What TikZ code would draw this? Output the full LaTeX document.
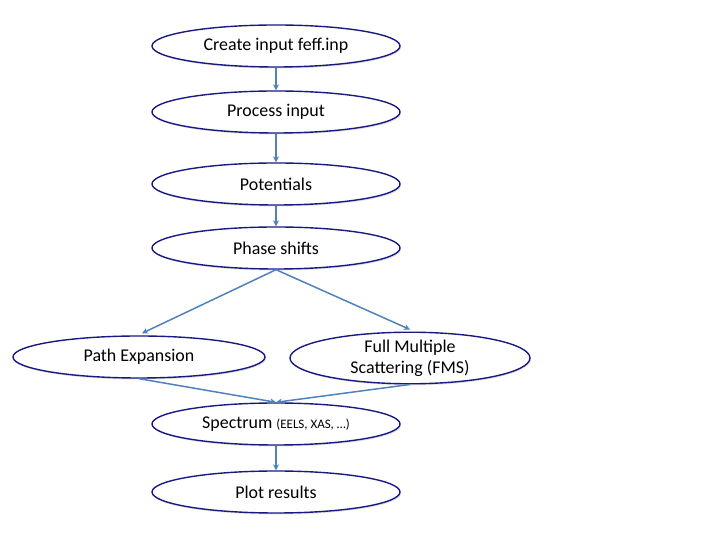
\documentclass[tikz,border=0pt]{standalone}
\usepackage{fontspec}
\setmainfont{Carlito}
\usetikzlibrary{shapes.geometric,arrows.meta,shadows}

\definecolor{rimblue}{RGB}{25,25,130}
\definecolor{flowblue}{RGB}{79,129,189}

\begin{document}
\begin{tikzpicture}[x=1bp,y=1bp]
    		\newcommand{\midx}{276} % centre line of the chain
    		\newcommand{\ewid}{248bp} % width of the ellipses
    		\newcommand{\ehgt}{42bp} % height of the ellipses

    		% set the style of the boxes and arrows
    		\tikzset{
    			stage/.style={
    				ellipse,
    				draw=rimblue,
    				line width=1.4pt,
    				fill=white,
    				minimum width=\ewid,
    				minimum height=\ehgt,
    				inner sep=0pt,
    				align=center,
    				font=\fontsize{18}{21}\selectfont,
    				drop shadow={opacity=0.25,shadow xshift=1pt,shadow yshift=-1.5pt}
    				},
    			flow/.style={
    				draw=flowblue,
    				line width=1.5pt,
    				-{Stealth[length=6pt,width=6pt]}
    				}
    		}
    		\useasboundingbox (0,0) rectangle (720,540);

    		% stages
			\node[stage] (create)    at (\midx,494) {Create input feff.inp};
			\node[stage] (process)   at (\midx,428) {Process input};
			\node[stage] (potential) at (\midx,356) {Potentials};
			\node[stage] (phase)     at (\midx,292) {Phase shifts};
			\node[stage, minimum width=252bp] (path) at (139,183) {Path Expansion};
			\node[stage, minimum width=240bp, minimum height=44bp] (fms) at (410,182) {Full Multiple\\Scattering (FMS)};
			\node[stage] (spectrum)  at (\midx,116) {Spectrum {\fontsize{13}{14}\selectfont(EELS, XAS, \dots)}};
			\node[stage] (plot)      at (\midx,48) {Plot results};

			% arrows
			\draw[flow] (create.south) -- (process.north);
			\draw[flow] (process.south) -- (potential.north);
			\draw[flow] (potential.south) -- (phase.north);
			\draw[flow] (phase.south) -- ([xshift=3bp,yshift=2bp]path.north);
			\draw[flow] (phase.south) -- ([yshift=2bp]fms.north);
			\draw[flow] (path.south) -- (spectrum.north);
			\draw[flow] (fms.south) -- (spectrum.north);
			\draw[flow] (spectrum.south) -- (plot.north);
		\end{tikzpicture}
\end{document}
